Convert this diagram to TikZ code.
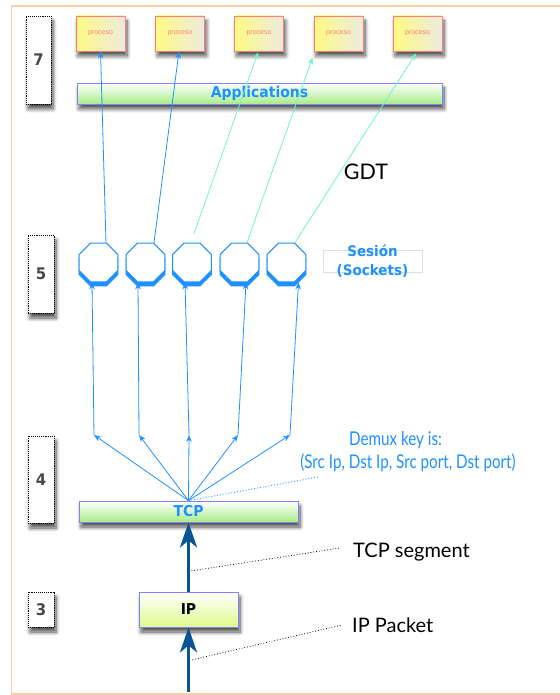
\documentclass[tikz,border=0pt]{standalone}
\usepackage{fontspec}
\setmainfont{Liberation Sans}
\newfontfamily\lucida[FakeStretch=0.93]{DejaVu Sans}
\newfontfamily\gill[FakeStretch=0.8]{Lato}
\newfontfamily\gillwide{Lato}
\usetikzlibrary{shapes.geometric,shadows,shadows.blur,arrows.meta,calc}

\definecolor{frameorange}{RGB}{250,205,168}
\definecolor{skyblue}{RGB}{30,144,255}
\definecolor{aqua}{RGB}{110,245,200}
\definecolor{navyarrow}{RGB}{10,85,150}
\definecolor{barborder}{RGB}{130,130,255}
\definecolor{appgreen}{RGB}{168,236,138}
\definecolor{ipgreen}{RGB}{222,250,140}
\definecolor{procyellow}{RGB}{255,250,130}
\definecolor{procgrey}{RGB}{236,234,222}
\definecolor{procred}{RGB}{250,128,120}
\definecolor{numgrey}{RGB}{70,70,70}
\definecolor{boxgrey}{RGB}{222,222,222}

\tikzset{
  softshadow/.style={blur shadow={shadow xshift=2pt, shadow yshift=-5pt,
      shadow blur steps=8, shadow blur radius=4pt, shadow opacity=70}},
  procbox/.style={rectangle, draw=procred, line width=0.9pt,
      left color=procyellow, right color=procgrey,
      minimum width=49, minimum height=35, inner sep=0pt,
      font=\fontsize{7}{8}\selectfont, text=procred, softshadow},
  bar/.style={rectangle, draw=barborder, line width=0.8pt,
      top color=white, bottom color=appgreen, inner sep=0pt,
      font=\lucida\bfseries\fontsize{15}{16}\selectfont, text=skyblue, softshadow},
  layerbox/.style={rectangle, draw=black, densely dotted, line width=0.9pt,
      fill=white, inner sep=0pt,
      font=\lucida\bfseries\fontsize{16}{18}\selectfont, text=numgrey, softshadow},
  socket/.style={regular polygon, regular polygon sides=8, minimum size=42,
      inner sep=0pt, draw=skyblue, line width=1pt, fill=white,
      general shadow={fill=skyblue, draw=skyblue, shadow xshift=0pt, shadow yshift=-4pt}},
  thinarrow/.style={draw=skyblue, line width=0.8pt, -{Stealth[length=7pt,width=5.5pt]}},
  gdtarrow/.style={draw=aqua, line width=0.8pt, -{Stealth[length=7pt,width=5.5pt]}},
  thickarrow/.style={draw=navyarrow, line width=3.3pt,
      -{Stealth[length=25pt,width=17pt,inset=7pt]}},
  leader/.style={draw=black, dotted, line width=0.8pt},
  bluenote/.style={font=\gill\fontsize{19}{20}\selectfont, text=skyblue,
      inner sep=0pt, anchor=base},
  blacknote/.style={font=\gillwide\fontsize{20}{22}\selectfont, inner sep=0pt,
      anchor=base west}
}

\begin{document}
\begin{tikzpicture}[x=1pt,y=-1pt]
\useasboundingbox (0,0) rectangle (559,695);

% outer frame
\draw[frameorange, line width=1.5pt] (11.5,6) rectangle (575,694);

% layer numbers
\node[layerbox, minimum width=25, minimum height=88] (l7) at (38.5,60) {7};
\node[layerbox, minimum width=26, minimum height=78] (l5) at (41,274) {5};
\node[layerbox, minimum width=26, minimum height=87] (l4) at (41,479.5) {4};
\node[layerbox, minimum width=26, minimum height=35] (l3) at (41,609.5) {3};

% application processes
\node[procbox] (p1) at (100.5,33.5) {proceso};
\node[procbox] (p2) at (180,33.5) {proceso};
\node[procbox] (p3) at (259,33.5) {proceso};
\node[procbox] (p4) at (338.5,33.5) {proceso};
\node[procbox] (p5) at (417.5,33.5) {proceso};

\node[bar, minimum width=365, minimum height=21] (app) at (259.5,93.5) {Applications};

% sockets
\node[socket] (o1) at (98.5,262.5) {};
\node[socket] (o2) at (145.5,262.5) {};
\node[socket] (o3) at (192,262.5) {};
\node[socket] (o4) at (239.5,262.5) {};
\node[socket] (o5) at (286.5,262.5) {};

\node[draw=boxgrey, line width=0.8pt, minimum width=99, minimum height=22, inner sep=0pt]
  (sesbox) at (372.5,261) {};
\node[align=center, font=\lucida\bfseries\fontsize{14.5}{18.5}\selectfont, text=skyblue]
  (sestxt) at (sesbox.center) {Sesión\\(Sockets)};

% transport and network
\node[bar, minimum width=219, minimum height=21] (tcp) at (188.5,511.5) {TCP};
\node[bar, bottom color=ipgreen, text=black, minimum width=99, minimum height=35]
  (ip) at (188.5,609.5) {IP};
\coordinate (inlet) at (188.5,692);

% fan-out points
\coordinate (c1) at (94,435);
\coordinate (c2) at (139,435);
\coordinate (c3) at (189,435);
\coordinate (c4) at (238,435);
\coordinate (c5) at (290,435);

% labels
\node[font=\gillwide\fontsize{21.5}{22}\selectfont, inner sep=0pt, anchor=base]
  (gdt) at (366,179) {GDT};
\node[bluenote] (dmx1) at (395.5,445.5) {Demux key is:};
\node[bluenote] (dmx2) at (408,468.5) {(Src Ip, Dst Ip, Src port, Dst port)};
\node[blacknote] (seg) at (353,557) {TCP segment};
\node[blacknote] (pkt) at (352,632) {IP Packet};

% sockets up to processes
\draw[thinarrow] ([xshift=7.5pt]o1.north) -- (p1.south);
\draw[thinarrow] ([xshift=8.5pt]o2.north) -- ([xshift=-1pt]p2.south);
\draw[gdtarrow] ([xshift=2pt,yshift=9pt]o3.north) -- ([xshift=-1pt,yshift=-1pt]p3.south);
\draw[gdtarrow] ([xshift=7.5pt]o4.north) -- ([xshift=-1pt,yshift=-6pt]p4.south west);
\draw[gdtarrow] ([xshift=8.5pt]o5.north) -- ([xshift=-1.5pt,yshift=-2pt]p5.south);

% TCP fan-out to sockets
\foreach \i/\dx in {1/-6.5,2/-7.5,3/-7,4/6.5,5/12} {
  \draw[thinarrow] (tcp.north) -- (c\i);
  \draw[thinarrow] (c\i) -- ([xshift=\dx pt]o\i.south);
}
\draw[draw=skyblue, dotted, line width=0.9pt]
  (tcp.north) -- ([xshift=18pt,yshift=-5pt]dmx2.south west);

% network stack arrows
\draw[thickarrow] (ip.north) -- (tcp.south);
\draw[thickarrow] (inlet) -- (ip.south);
\draw[leader] ($(ip.north)!0.3!(tcp.south)+(3,0)$) -- ([xshift=-13pt,yshift=9pt]seg.base west);
\draw[leader] ($(inlet)!0.5!(ip.south)+(4,0)$) -- ([xshift=-10pt,yshift=7pt]pkt.base west);
\end{tikzpicture}
\end{document}
